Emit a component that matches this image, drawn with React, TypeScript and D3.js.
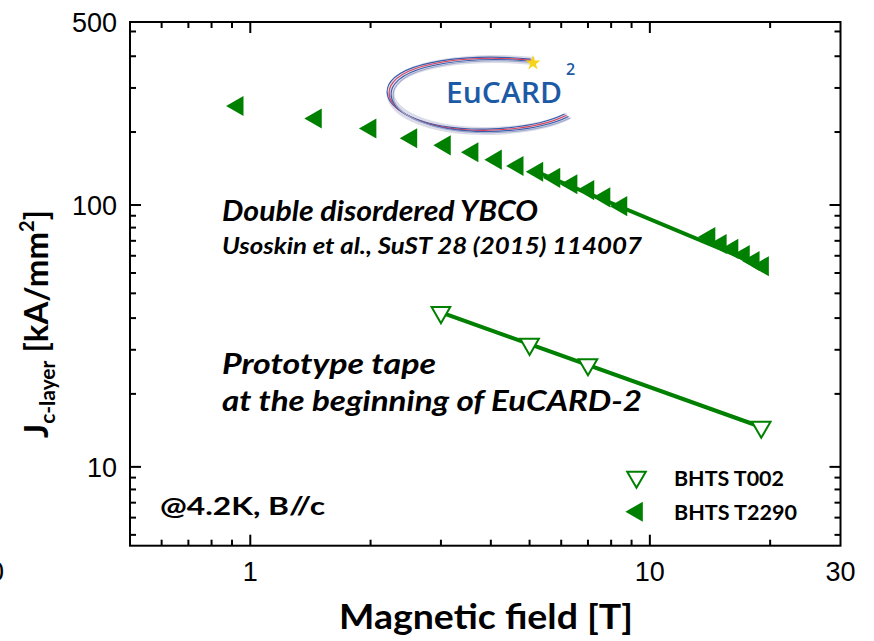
import React, { useRef, useEffect } from "react";
import * as d3 from "d3";

// magnetic field [T] and Jc-layer [kA/mm2]
const fieldT2290 = [0.93, 1.46, 2.0, 2.53, 3.07, 3.6, 4.12, 4.67, 5.23, 5.77, 6.37, 7.02, 7.7, 8.49, 14.1, 15.05, 16.1, 17.2, 18.2, 19.2];
const jcT2290 = [239, 214, 196, 180, 169, 159, 149, 141, 134, 127, 120, 114, 107, 99, 75.5, 71, 68, 64.4, 61.1, 58.4];

const fieldT002 = [3.0, 5.0, 7.0, 19.0];
const jcT002 = [38.9, 29.4, 24.6, 14.2];

// fitted power-law lines (end points)
const fitFieldT2290 = [5.2, 19.6];
const fitJcT2290 = [134, 57.5];
const fitFieldT002 = [3.0, 19.0];
const fitJcT002 = [38.9, 14.2];

const xDomain = [0.5, 30];
const yDomain = [5, 500];

const xMajorTicks = [1, 10];
const xMinorTicks = [0.6, 0.7, 0.8, 0.9, 2, 3, 4, 5, 6, 7, 8, 9, 20];
const xTickLabels = [1, 10, 30];

const yMajorTicks = [10, 100];
const yMinorTicks = [5.5, 6.4, 7.3, 8.2, 9.1, 19, 28, 37, 46, 55, 64, 73, 82, 91, 190, 280, 370, 460];
const yTickLabels = [10, 100, 500];

const legendNames = ["BHTS T002", "BHTS T2290"];

const green = "#008000";

export default function App() {

	const refChart = useRef(null);

	let layout = {"width": 874,
				  "height": 641,
				  "left": 130,
				  "right": 840.5,
				  "top": 22,
				  "bottom": 545.7};

	useEffect(() => {

		let svg = d3.select(refChart.current);
		svg.selectAll("*").remove();

		let xScale = d3.scaleLog()
						.domain(xDomain)
						.range([layout.left, layout.right]);

		let yScale = d3.scaleLog()
						.domain(yDomain)
						.range([layout.bottom, layout.top]);

		// logo
		let logo = svg.append("g").attr("id", "logo");
		let swoosh = "M 532 60 C 470 54, 402 62, 390 86 C 380 110, 425 131, 488 130 C 522 129, 550 123, 566 115";
		logo.append("path").attr("d", swoosh).attr("fill", "none")
			.attr("stroke", "#dcdce8").attr("stroke-width", 8).attr("transform", "translate(2,1)");
		let strands = [["#3a5cab", -1.5], ["#d9405a", 0.5], ["#3a5cab", 2.5], ["#9aa6cc", 4.5]];
		strands.forEach(s => {
			logo.append("path").attr("d", swoosh).attr("fill", "none")
				.attr("stroke", s[0]).attr("stroke-width", 1.1)
				.attr("transform", `translate(${s[1]}, ${s[1] * 0.6})`);
		});
		logo.append("text")
			.attr("x", 446).attr("y", 103)
			.attr("font-family", "'Open Sans', sans-serif")
			.attr("font-weight", 600)
			.attr("font-size", 29)
			.attr("fill", "#1d5aa6")
			.attr("textLength", 116)
			.attr("lengthAdjust", "spacingAndGlyphs")
			.text("EuCARD");
		logo.append("text")
			.attr("x", 566).attr("y", 75)
			.attr("font-family", "'Open Sans', sans-serif")
			.attr("font-weight", 600)
			.attr("font-size", 16)
			.attr("fill", "#1d5aa6")
			.text("2");
		logo.append("path")
			.attr("d", d3.symbol(d3.symbolStar, 70)())
			.attr("transform", "translate(533, 63)")
			.attr("fill", "#f7d417");

		// fit lines
		let line = d3.line()
					.x(d => xScale(d[0]))
					.y(d => yScale(d[1]));

		svg.append("path")
			.datum(d3.zip(fitFieldT2290, fitJcT2290))
			.attr("d", line)
			.attr("fill", "none")
			.attr("stroke", green)
			.attr("stroke-width", 4);

		svg.append("path")
			.datum(d3.zip(fitFieldT002, fitJcT002))
			.attr("d", line)
			.attr("fill", "none")
			.attr("stroke", green)
			.attr("stroke-width", 4);

		// markers
		let filledTri = d3.symbol(d3.symbolTriangle, 175)();
		let openTri = d3.symbol(d3.symbolTriangle, 150)();

		svg.append("g")
			.selectAll("path")
			.data(d3.zip(fieldT2290, jcT2290))
			.join("path")
			.attr("d", filledTri)
			.attr("transform", d => `translate(${xScale(d[0])}, ${yScale(d[1])}) rotate(-90)`)
			.attr("fill", green);

		svg.append("g")
			.selectAll("path")
			.data(d3.zip(fieldT002, jcT002))
			.join("path")
			.attr("d", openTri)
			.attr("transform", d => `translate(${xScale(d[0])}, ${yScale(d[1])}) rotate(180)`)
			.attr("fill", "white")
			.attr("stroke", green)
			.attr("stroke-width", 2);

		// frame and ticks
		let axes = svg.append("g").attr("stroke", "black").attr("stroke-width", 2);

		axes.append("rect")
			.attr("x", layout.left).attr("y", layout.top)
			.attr("width", layout.right - layout.left)
			.attr("height", layout.bottom - layout.top)
			.attr("fill", "none");

		let xTicks = xMajorTicks.map(v => [v, 11]).concat(xMinorTicks.map(v => [v, 6]));
		let yTicks = yMajorTicks.map(v => [v, 11]).concat(yMinorTicks.map(v => [v, 6]));

		axes.selectAll(".xTickB")
			.data(xTicks)
			.join("line")
			.attr("class", "xTickB")
			.attr("x1", d => xScale(d[0])).attr("x2", d => xScale(d[0]))
			.attr("y1", layout.bottom).attr("y2", d => layout.bottom - d[1]);

		axes.selectAll(".xTickT")
			.data(xTicks)
			.join("line")
			.attr("class", "xTickT")
			.attr("x1", d => xScale(d[0])).attr("x2", d => xScale(d[0]))
			.attr("y1", layout.top).attr("y2", d => layout.top + d[1]);

		axes.selectAll(".yTickL")
			.data(yTicks)
			.join("line")
			.attr("class", "yTickL")
			.attr("y1", d => yScale(d[0])).attr("y2", d => yScale(d[0]))
			.attr("x1", layout.left).attr("x2", d => layout.left + d[1]);

		axes.selectAll(".yTickR")
			.data(yTicks)
			.join("line")
			.attr("class", "yTickR")
			.attr("y1", d => yScale(d[0])).attr("y2", d => yScale(d[0]))
			.attr("x1", layout.right).attr("x2", d => layout.right - d[1]);

		// tick labels
		svg.append("g")
			.selectAll("text")
			.data(xTickLabels)
			.join("text")
			.attr("x", d => xScale(d))
			.attr("y", 581)
			.attr("text-anchor", "middle")
			.attr("font-family", "'Liberation Sans', Arial, sans-serif")
			.attr("font-size", 27)
			.text(d => d);

		svg.append("g")
			.selectAll("text")
			.data(yTickLabels)
			.join("text")
			.attr("x", 117)
			.attr("y", d => yScale(d) + 9.7)
			.attr("text-anchor", "end")
			.attr("font-family", "'Liberation Sans', Arial, sans-serif")
			.attr("font-size", 27)
			.text(d => d);

		// stray label clipped at the left border of the figure
		svg.append("text")
			.attr("x", 4).attr("y", 581)
			.attr("text-anchor", "end")
			.attr("font-family", "'Liberation Sans', Arial, sans-serif")
			.attr("font-size", 27)
			.text("0");

		// axis titles
		svg.append("text")
			.attr("x", 339).attr("y", 629)
			.attr("font-family", "Lato, sans-serif")
			.attr("font-weight", "bold")
			.attr("font-size", 34)
			.attr("textLength", 294)
			.attr("lengthAdjust", "spacingAndGlyphs")
			.text("Magnetic field [T]");

		let yTitle = svg.append("text")
			.attr("transform", "translate(48, 324) rotate(-90)")
			.attr("text-anchor", "middle")
			.attr("font-family", "Lato, sans-serif")
			.attr("font-weight", "bold")
			.attr("font-size", 33);
		yTitle.append("tspan").text("J");
		yTitle.append("tspan").attr("font-size", 21).attr("dy", 7).text("c-layer");
		yTitle.append("tspan").attr("dy", -7).text(" [kA/mm");
		yTitle.append("tspan").attr("font-size", 20).attr("dy", -14).text("2");
		yTitle.append("tspan").attr("dy", 14).text("]");

		// annotations: text, x, baseline, size, italic, width
		let notes = [["Double disordered YBCO", 222, 221, 29, true, 316],
					 ["Usoskin et al., SuST 28 (2015) 114007", 222, 254, 23, true, 420],
					 ["Prototype tape", 222, 374, 29, true, 214],
					 ["at the beginning of EuCARD-2", 222, 411, 29, true, 420],
					 ["@4.2K, B//c", 160, 515, 25, false, 165]];

		svg.append("g")
			.selectAll("text")
			.data(notes)
			.join("text")
			.attr("x", d => d[1])
			.attr("y", d => d[2])
			.attr("font-family", "Lato, sans-serif")
			.attr("font-weight", "bold")
			.attr("font-style", d => d[4] ? "italic" : "normal")
			.attr("font-size", d => d[3])
			.attr("textLength", d => d[5])
			.attr("lengthAdjust", "spacingAndGlyphs")
			.text(d => d[0]);

		// legend
		let legend = svg.append("g");
		legend.append("path")
			.attr("d", openTri)
			.attr("transform", "translate(636.5, 477) rotate(180)")
			.attr("fill", "white")
			.attr("stroke", green)
			.attr("stroke-width", 2);
		legend.append("path")
			.attr("d", filledTri)
			.attr("transform", "translate(637, 511.7) rotate(-90)")
			.attr("fill", green);
		legend.selectAll("text")
			.data(legendNames)
			.join("text")
			.attr("x", 674)
			.attr("y", (d, i) => 486 + i * 34)
			.attr("font-family", "Lato, sans-serif")
			.attr("font-weight", "bold")
			.attr("font-size", 21)
			.attr("textLength", (d, i) => i === 0 ? 110 : 123)
			.attr("lengthAdjust", "spacingAndGlyphs")
			.text(d => d);

	}, []);

	return (
		<svg ref={refChart}
			 width={layout.width}
			 height={layout.height}
			 style={{position: "absolute", left: 0, top: 0, background: "white"}} />
	);
}
